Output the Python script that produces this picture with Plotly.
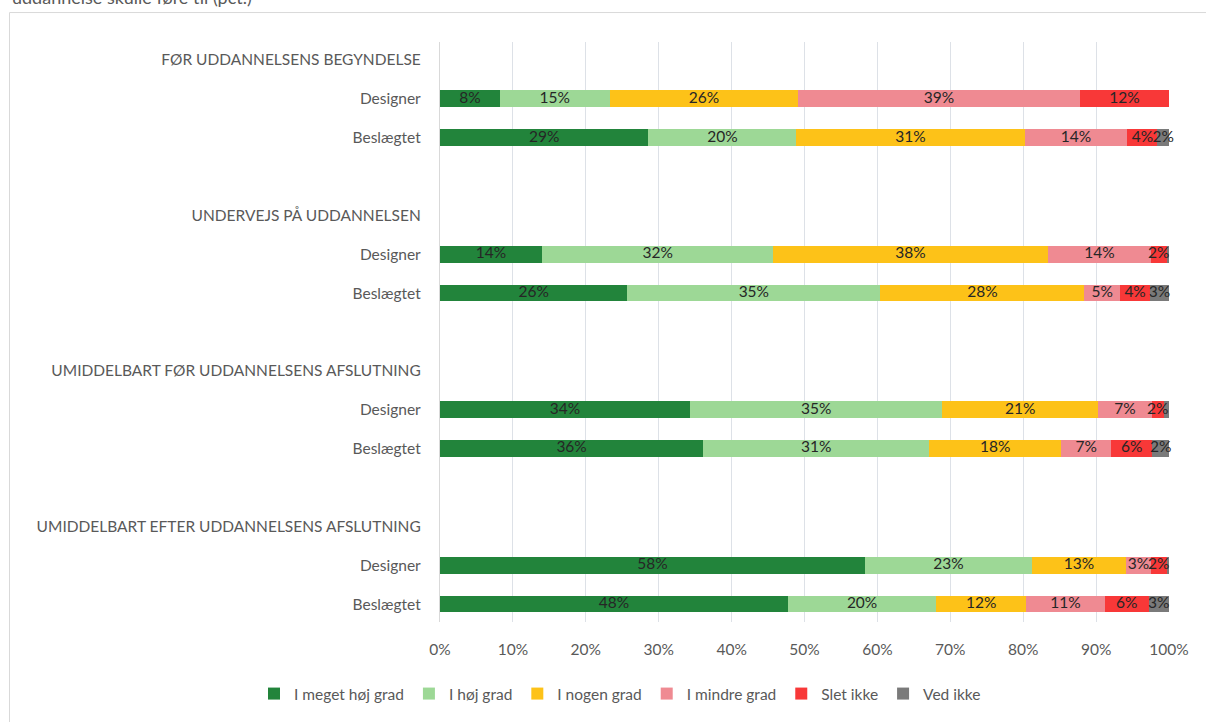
import plotly.graph_objects as go

# ---- data ----
groups = ["FØR UDDANNELSENS BEGYNDELSE", "UNDERVEJS PÅ UDDANNELSEN",
          "UMIDDELBART FØR UDDANNELSENS AFSLUTNING", "UMIDDELBART EFTER UDDANNELSENS AFSLUTNING"]
respondents = ["Designer", "Beslægtet"]
series_names = ["I meget høj grad", "I høj grad", "I nogen grad", "I mindre grad", "Slet ikke", "Ved ikke"]
# order of values: (group1 Designer, group1 Beslægtet, group2 Designer, ...)
meget_hoj = [8.2, 28.6, 14.0, 25.7, 34.3, 36.1, 58.3, 47.7]
hoj = [15.1, 20.3, 31.7, 34.7, 34.6, 31.0, 22.9, 20.4]
nogen = [25.8, 31.3, 37.7, 28.0, 21.4, 18.1, 12.9, 12.3]
mindre = [38.7, 14.1, 14.1, 4.9, 7.3, 6.9, 3.4, 10.8]
slet_ikke = [12.2, 4.1, 2.2, 4.1, 1.7, 5.6, 2.2, 6.0]
ved_ikke = [0.0, 1.6, 0.3, 2.6, 0.7, 2.3, 0.3, 2.8]
x_ticks = [0, 10, 20, 30, 40, 50, 60, 70, 80, 90, 100]
title_text = "uddannelse skulle føre til (pct.)"

colors = ["#22843b", "#9dd896", "#fdc218", "#ef8a92", "#f83838", "#7a7a7a"]
all_series = [meget_hoj, hoj, nogen, mindre, slet_ikke, ved_ikke]

# ---- build rows: header, Designer, Beslægtet, blank ----
row_labels = []
bar_rows = []
for gi, g in enumerate(groups):
    if gi > 0:
        row_labels.append("")
    row_labels.append(g)
    for r in respondents:
        bar_rows.append(len(row_labels))
        row_labels.append(r)

tickvals = [i for i, t in enumerate(row_labels) if t]
ticktext = [t for t in row_labels if t]

FONT = "Lato, 'Open Sans', sans-serif"
GRAY = "#595959"
FS = 15.5

fig = go.Figure()
for name, vals, col in zip(series_names, all_series, colors):
    fig.add_trace(go.Bar(
        name=name, x=vals, y=bar_rows, orientation="h",
        marker=dict(color=col, line=dict(width=0)),
        width=0.43, hoverinfo="skip"))

# data labels (centered in each segment, full size even when overflowing)
lx, ly, lt = [], [], []
for ri, yrow in enumerate(bar_rows):
    cum = 0.0
    for vals in all_series:
        v = vals[ri]
        if v >= 1:
            lx.append(cum + v / 2)
            ly.append(yrow)
            lt.append(f"{round(v)}%")
        cum += v
fig.add_trace(go.Scatter(
    x=lx, y=ly, text=lt, mode="text", showlegend=False, hoverinfo="skip",
    textposition="middle center", cliponaxis=False,
    textfont=dict(family=FONT, size=FS, color="#262626")))

L, T, R, B = 440, 42, 1169, 623
W, H = 1206, 722
pw, ph = R - L, B - T

fig.update_layout(
    width=W, height=H, barmode="stack",
    margin=dict(l=L, r=W - R, t=T, b=H - B),
    plot_bgcolor="white", paper_bgcolor="white",
    font=dict(family=FONT, size=FS, color=GRAY),
    bargap=0,
    xaxis=dict(range=[0, 100], tickvals=x_ticks, ticktext=[f"{t}%" for t in x_ticks],
               showgrid=True, gridcolor="#dde1e7", gridwidth=1.3, zeroline=False,
               showline=False, ticks="", ticklabelstandoff=16,
               tickfont=dict(size=FS, color=GRAY), fixedrange=True),
    yaxis=dict(range=[14.46, -0.46], tickvals=tickvals, ticktext=ticktext,
               showgrid=False, zeroline=False, showline=True, linecolor="#d9d9d9",
               linewidth=1.3, ticks="", ticklabelstandoff=15,
               tickfont=dict(size=FS, color=GRAY), fixedrange=True),
    legend=dict(orientation="h", x=(620 - L) / pw, xanchor="center",
                y=(B - 694) / ph, yanchor="middle",
                font=dict(size=FS, color=GRAY), itemwidth=30,
                traceorder="normal", itemclick=False, itemdoubleclick=False),
    showlegend=True,
)

# chart frame (partly outside the page) and cut-off title
fig.add_shape(type="rect", xref="paper", yref="paper",
              x0=(9.5 - L) / pw, x1=(1300 - L) / pw,
              y0=(B - 12.5) / ph, y1=(B - 800) / ph,
              line=dict(color="#d9d9d9", width=1), fillcolor="rgba(0,0,0,0)", layer="below")
fig.add_annotation(text=title_text, xref="paper", yref="paper",
                   x=(10 - L) / pw, xanchor="left", y=(B - 10) / ph, yanchor="bottom",
                   showarrow=False, font=dict(size=18, color=GRAY, family=FONT))

fig.write_html("out.html", config={"displayModeBar": False},
               post_script="document.body.style.margin='0';document.body.style.overflow='hidden';")
